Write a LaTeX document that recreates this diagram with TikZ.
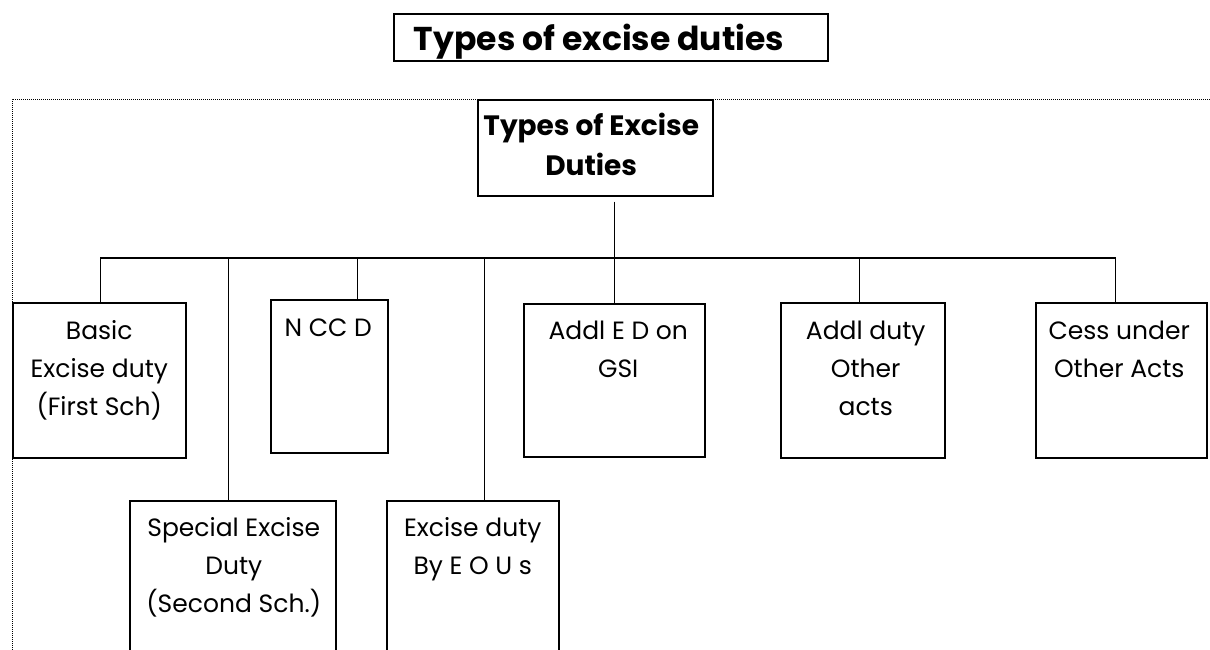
\documentclass[tikz,border=0pt]{standalone}
\usepackage{fontspec}
\setmainfont{Poppins}
\begin{document}
\begin{tikzpicture}[x=1pt,y=-1pt,
  box/.style={draw, line width=1.5pt, inner sep=0pt, anchor=north west},
  conn/.style={line width=1.3pt},
  lbl/.style={font=\fontsize{25}{38}\selectfont, align=center, inner sep=0pt, anchor=north},
  rootlbl/.style={font=\bfseries\fontsize{28}{40}\selectfont, align=center,
    inner sep=0pt, anchor=north},
  frame/.style={line width=0.9pt, dash pattern=on 1pt off 1pt}]
\useasboundingbox (0,0) rectangle (1210,649);
\clip (0,0) rectangle (1210,649);

% heading
\node[box, line width=2.2pt, minimum width=434pt, minimum height=47pt] (titlebox) at (393,13) {};
\node[font=\bfseries\fontsize{33}{40}\selectfont, inner sep=0pt, anchor=base] (title) at (599,50) {Types of excise duties};

% dotted frame round the chart
\draw[frame] (12,720) -- (12,99) -- (1300,99);

% boxes
\node[box, minimum width=235pt, minimum height=96pt] (root) at (477,99) {};
\node[box, minimum width=173pt, minimum height=155pt] (basic) at (12,302) {};
\node[box, minimum width=117pt, minimum height=153pt] (nccd) at (270,299) {};
\node[box, minimum width=206pt, minimum height=200pt] (special) at (129,500) {};
\node[box, minimum width=172pt, minimum height=200pt] (eou) at (386,500) {};
\node[box, minimum width=181pt, minimum height=153pt] (gsi) at (523,303) {};
\node[box, minimum width=164pt, minimum height=155pt] (addl) at (780,302) {};
\node[box, minimum width=171pt, minimum height=155pt] (cess) at (1035,302) {};

% labels (each starts with a strut so the first baseline sits 0.7 x baselineskip below the top)
\node[rootlbl] (rootT) at ([yshift=-8pt,xshift=-4pt]root.north) {\strut Types of Excise\\Duties};
\node[lbl] (basicT) at ([yshift=-11pt]basic.north) {\strut Basic\\Excise duty\\(First Sch)};
\node[lbl] (nccdT) at ([yshift=-11pt,xshift=-1pt]nccd.north) {\strut N CC D};
\node[lbl] (specialT) at ([yshift=-10pt,xshift=1pt]special.north) {\strut Special Excise\\Duty\\(Second Sch.)};
\node[lbl] (eouT) at ([yshift=-10pt]eou.north) {\strut Excise duty\\By E O U s};
\node[lbl] (gsiT) at ([yshift=-10pt,xshift=4pt]gsi.north) {\strut Addl E D on\\GSI};
\node[lbl] (addlT) at ([yshift=-11pt,xshift=3pt]addl.north) {\strut Addl duty\\Other\\acts};
\node[lbl] (cessT) at ([yshift=-11pt,xshift=-2pt]cess.north) {\strut Cess under\\Other Acts};

% connectors
\coordinate (bus) at (0,258);
\draw[conn] ([yshift=-5pt]root.south -| gsi.north) -- (gsi.north);
\draw[conn] ([xshift=1.5pt]basic.north) -- ([xshift=1.5pt]basic.north |- bus)
  -- ([xshift=-5.5pt]cess.north |- bus) -- ([xshift=-5.5pt]cess.north);
\draw[conn] ([xshift=-4pt]special.north |- bus) -- ([xshift=-4pt]special.north);
\draw[conn] ([xshift=28.5pt]nccd.north |- bus) -- ([xshift=28.5pt]nccd.north);
\draw[conn] ([xshift=12pt]eou.north |- bus) -- ([xshift=12pt]eou.north);
\draw[conn] ([xshift=-3pt]addl.north |- bus) -- ([xshift=-3pt]addl.north);
\end{tikzpicture}
\end{document}
